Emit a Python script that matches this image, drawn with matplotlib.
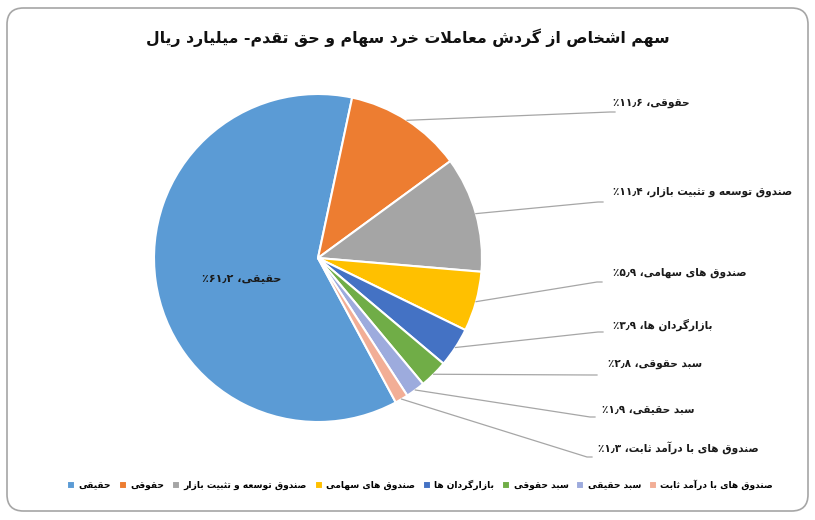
import re
import numpy as np
import matplotlib
matplotlib.use("Agg")
import matplotlib.pyplot as plt
from matplotlib.patches import FancyBboxPatch

# داده‌ها
title = "سهم اشخاص از گردش معاملات خرد سهام و حق تقدم- میلیارد ریال"
categories = ["حقیقی", "حقوقی", "صندوق توسعه و تثبیت بازار", "صندوق های سهامی",
              "بازارگردان ها", "سبد حقوقی", "سبد حقیقی", "صندوق های با درآمد ثابت"]
shares = [61.2, 11.6, 11.4, 5.9, 3.9, 2.8, 1.9, 1.3]
colors = ["#5B9BD5", "#ED7D31", "#A5A5A5", "#FFC000",
          "#4472C4", "#70AD47", "#9DABDD", "#F2AE96"]

# جای برچسب‌ها (پیکسل): نقطه شکست خط راهنما و گوشه چپ متن
elbow_px = [None, (610, 112), (598, 202), (597, 282), (598, 332), (592, 375), (590, 417), (587, 457)]
text_px = [None, (613, 103), (613, 192), (613, 273), (613, 325), (608, 364), (602, 410), (598, 448)]

# شکل دادن حروف فارسی (matplotlib خودش این کار را نمی‌کند)
DUAL = {"ب": 0xFE8F, "ت": 0xFE95, "ث": 0xFE99, "ح": 0xFEA1, "خ": 0xFEA5,
        "س": 0xFEB1, "ش": 0xFEB5, "ص": 0xFEB9, "ع": 0xFEC9, "ق": 0xFED5,
        "ل": 0xFEDD, "م": 0xFEE1, "ن": 0xFEE5, "ه": 0xFEE9, "گ": 0xFB92,
        "ی": 0xFBFC}
RIGHT = {"ا": 0xFE8D, "آ": 0xFE81, "د": 0xFEA9, "ر": 0xFEAD, "ز": 0xFEAF, "و": 0xFEED}
LAM_ALEF = {"ا": 0xFEFB, "آ": 0xFEF5}


def shape(text):
    res = []
    i = 0
    n = len(text)
    while i < n:
        c = text[i]
        jp = i > 0 and text[i - 1] in DUAL and (c in DUAL or c in RIGHT)
        if c == "ل" and i + 1 < n and text[i + 1] in LAM_ALEF:
            res.append(chr(LAM_ALEF[text[i + 1]] + (1 if jp else 0)))
            i += 2
            continue
        if c in DUAL:
            jn = i + 1 < n and (text[i + 1] in DUAL or text[i + 1] in RIGHT)
            off = 3 if (jp and jn) else 1 if jp else 2 if jn else 0
            res.append(chr(DUAL[c] + off))
        elif c in RIGHT:
            res.append(chr(RIGHT[c] + (1 if jp else 0)))
        else:
            res.append(c)
        i += 1
    vis = "".join(res)[::-1]
    return re.sub(r"[0-9۰-۹٫]+", lambda m: m.group()[::-1], vis)


fa = str.maketrans("0123456789.", "۰۱۲۳۴۵۶۷۸۹٫")


def label(name, v):
    return shape(name + "، " + str(v).translate(fa) + "٪")


# پیکسل به مختصات محور (مرکز دایره 318,258 و شعاع 164 پیکسل)
CX, CY, R = 318, 258, 164


def px(x, y):
    return (x - CX) / R, (CY - y) / R


fig = plt.figure(figsize=(8.15, 5.2), dpi=100)
ax = fig.add_axes([0, 0, 1, 1])

start = -61.7
wedges, _ = ax.pie(shares, colors=colors, startangle=start, counterclock=False,
                   radius=1, center=(0, 0),
                   wedgeprops=dict(edgecolor="white", linewidth=1.5))

ax.set_xlim(-CX / R, (815 - CX) / R)
ax.set_ylim((CY - 520) / R, CY / R)
ax.axis("off")

cum = np.cumsum([0] + shares[:-1])
mids = np.radians(start - (cum + np.array(shares) / 2) * 3.6)

# برچسب درون بخش بزرگ
mx, my = 0.47 * np.cos(mids[0]), 0.47 * np.sin(mids[0]) - 0.06
ax.text(mx, my, label(categories[0], shares[0]), ha="center", va="center",
        fontsize=8, fontweight="bold", family="DejaVu Sans", color="#1a1a1a")

for k in range(1, len(shares)):
    ex, ey = np.cos(mids[k]), np.sin(mids[k])
    bx, by = px(*elbow_px[k])
    ax.plot([ex, bx, bx + 5 / R], [ey, by, by], color="#A6A6A6", lw=0.9)
    tx, ty = px(*text_px[k])
    ax.text(tx, ty, label(categories[k], shares[k]), ha="left", va="center",
            fontsize=7.6, fontweight="bold", family="DejaVu Sans", color="#1a1a1a")

tx, ty = px(408, 38)
ax.text(tx, ty, shape(title), ha="center", va="center", fontsize=11.3,
        fontweight="bold", family="DejaVu Sans", color="#111111")

# قاب گرد دور نمودار
x0, y1 = px(7, 8)
x1, y0 = px(808, 511)
ax.add_patch(FancyBboxPatch((x0, y0), x1 - x0, y1 - y0,
                            boxstyle="round,pad=0,rounding_size=0.1",
                            ec="#A6A6A6", fc="none", lw=1.2, clip_on=False))

lx, ly = 420 / 815, 1 - 485 / 520
fig.legend(wedges, [shape(c) for c in categories], loc="center",
           bbox_to_anchor=(lx, ly), ncol=8, frameon=False,
           handlelength=0.9, handleheight=0.9, handletextpad=0.35,
           columnspacing=0.85, prop=dict(family="DejaVu Sans", weight="bold", size=6.6))

fig.savefig("out.png", dpi=100)
